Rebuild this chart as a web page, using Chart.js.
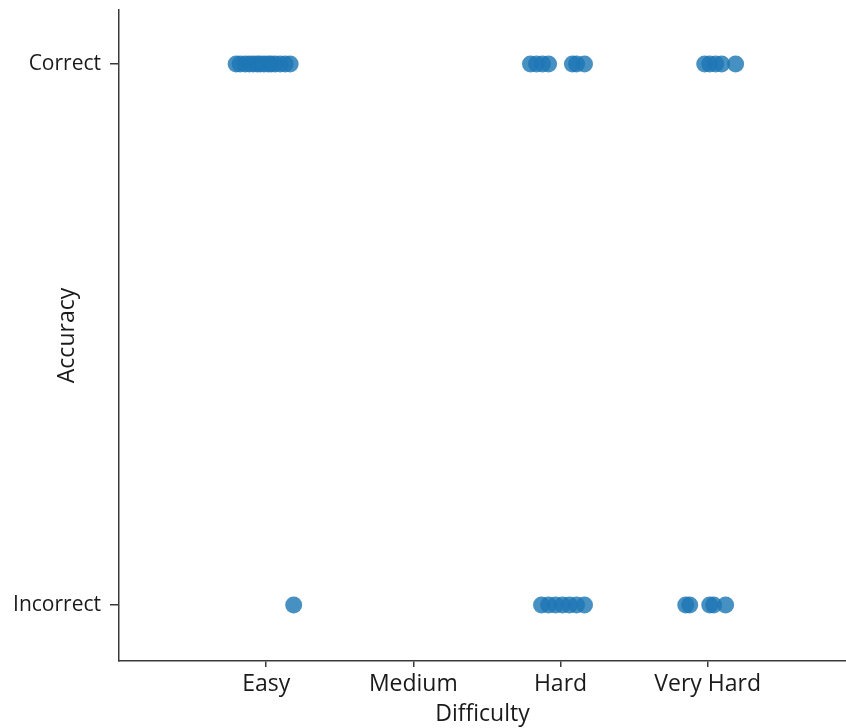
<!DOCTYPE html>
<html>
<head>
<meta charset="utf-8">
<script src="https://cdn.jsdelivr.net/npm/chart.js@4"></script>
<style>
  html, body { margin: 0; padding: 0; background: #ffffff; }
  #wrap { width: 846px; height: 728px; }
</style>
</head>
<body>
<div id="wrap"><canvas id="chart" width="846" height="728"></canvas></div>
<script>
// Difficulty categories along x, accuracy outcomes along y
const difficulties = ['Easy', 'Medium', 'Hard', 'Very Hard'];
const accuracyLevels = ['Incorrect', 'Correct'];

// Jittered x positions (category index + jitter) of each answer
const correctX = [
  -0.204, -0.177, -0.143, -0.115, -0.088, -0.061, -0.041, -0.014, 0.014, 0.034, 0.061, 0.095, 0.129, 0.163,
  1.796, 1.837, 1.878, 1.919, 2.081, 2.109, 2.163,
  2.980, 3.014, 3.054, 3.095, 3.190
];
const incorrectX = [
  0.187,
  1.871, 1.919, 1.966, 2.014, 2.061, 2.109, 2.163,
  2.851, 2.878, 3.014, 3.041, 3.122
];

const pointColor = 'rgba(31, 119, 180, 0.82)';
const fontFamily = "'Open Sans', 'DejaVu Sans', sans-serif";
const textColor = '#1a1a1a';
const axisColor = '#3a3a3a';

const points = [
  ...correctX.map(x => ({ x: x, y: accuracyLevels.indexOf('Correct') })),
  ...incorrectX.map(x => ({ x: x, y: accuracyLevels.indexOf('Incorrect') }))
];

new Chart(document.getElementById('chart'), {
  type: 'scatter',
  data: {
    datasets: [{
      data: points,
      backgroundColor: pointColor,
      borderWidth: 0,
      pointRadius: 8.5,
      pointHoverRadius: 8.5,
      clip: false
    }]
  },
  options: {
    responsive: false,
    animation: false,
    layout: { autoPadding: false, padding: { top: 10, right: 0, left: 0, bottom: 0 } },
    plugins: { legend: { display: false }, tooltip: { enabled: false } },
    scales: {
      x: {
        type: 'linear',
        min: -1,
        max: 3.94,
        afterBuildTicks: axis => { axis.ticks = difficulties.map((_, i) => ({ value: i })); },
        afterFit: axis => {
          axis.height = 67;
          axis.paddingLeft = 0;
          axis.paddingRight = 0;
        },
        ticks: {
          callback: v => difficulties[v],
          color: textColor,
          font: { family: fontFamily, size: 23 },
          padding: 4,
          autoSkip: false,
          maxRotation: 0
        },
        grid: { drawOnChartArea: false, drawTicks: true, tickLength: 6, color: axisColor, lineWidth: 1.5 },
        border: { display: true, color: axisColor, width: 1.5 },
        title: {
          display: true,
          text: 'Difficulty',
          color: textColor,
          font: { family: fontFamily, size: 23 },
          padding: { top: 0, bottom: 0 }
        }
      },
      y: {
        type: 'linear',
        min: -0.1035,
        max: 1.1,
        afterBuildTicks: axis => { axis.ticks = accuracyLevels.map((_, i) => ({ value: i })); },
        afterFit: axis => {
          axis.width = 119;
          axis.paddingTop = 0;
          axis.paddingBottom = 0;
        },
        ticks: {
          callback: v => accuracyLevels[v],
          color: textColor,
          font: { family: fontFamily, size: 21 },
          padding: 9
        },
        grid: { drawOnChartArea: false, drawTicks: true, tickLength: 9, color: axisColor, lineWidth: 1.5 },
        border: { display: true, color: axisColor, width: 1.5 },
        title: {
          display: true,
          text: 'Accuracy',
          color: textColor,
          font: { family: fontFamily, size: 23 },
          padding: { top: 54, bottom: 0 }
        }
      }
    }
  }
});
</script>
</body>
</html>
